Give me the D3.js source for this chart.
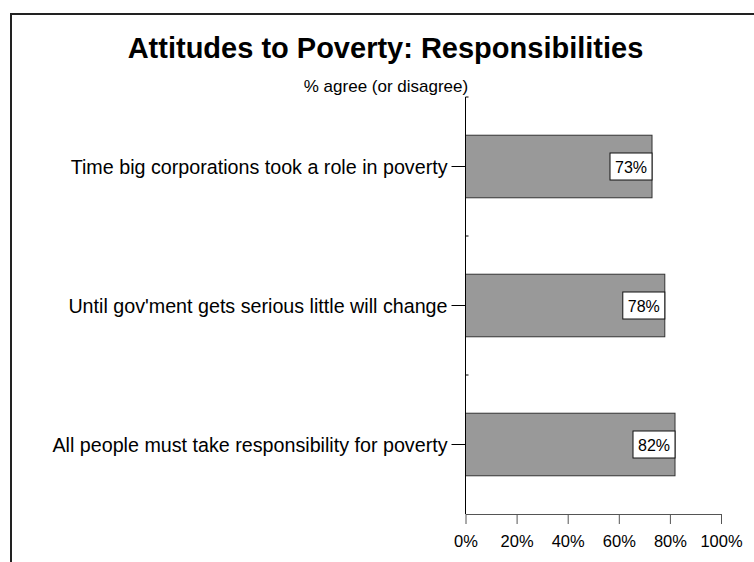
<!DOCTYPE html>
<html><head><meta charset="utf-8">
<script src="https://cdn.jsdelivr.net/npm/d3@7"></script>
<style>html,body{margin:0;padding:0;background:#fff;}svg{display:block;font-family:"Liberation Sans",Arial,sans-serif;}</style>
</head><body>
<script>
const categories = ["Time big corporations took a role in poverty","Until gov'ment gets serious little will change","All people must take responsibility for poverty"];
const values = [73, 78, 82];
const tickValues = [0, 20, 40, 60, 80, 100];
const titleText = "Attitudes to Poverty: Responsibilities";
const subtitleText = "% agree (or disagree)";

const W = 754, H = 562;
const svg = d3.select("body").append("svg").attr("width", W).attr("height", H);
svg.append("rect").attr("width", W).attr("height", H).attr("fill", "#fff");
// frame
svg.append("path").attr("d", "M11,562V14H754").attr("fill", "none").attr("stroke", "#222").attr("stroke-width", 2);

const x = d3.scaleLinear().domain([0, 100]).range([465.5, 721]);
const y = d3.scaleBand().domain(categories).range([97, 514]).paddingInner(0).paddingOuter(0);

svg.append("text").attr("x", 385.5).attr("y", 58).attr("text-anchor", "middle")
  .attr("font-size", 29).attr("font-weight", "bold").text(titleText);
svg.append("text").attr("x", 386).attr("y", 92).attr("text-anchor", "middle")
  .attr("font-size", 17).text(subtitleText);

const barH = y.bandwidth() * 0.45;
const g = svg.append("g");
g.selectAll("rect.bar").data(values).join("rect").attr("class", "bar")
  .attr("x", x(0)).attr("y", (d, i) => y(categories[i]) + y.bandwidth() / 2 - barH / 2)
  .attr("width", d => x(d) - x(0)).attr("height", barH)
  .attr("fill", "#999999").attr("stroke", "#333").attr("stroke-width", 1);

// value labels
const lbl = g.selectAll("g.lbl").data(values).join("g").attr("class", "lbl")
  .attr("transform", (d, i) => `translate(${x(d)},${y(categories[i]) + y.bandwidth() / 2})`);
lbl.append("rect").attr("x", -42).attr("y", -13.5).attr("width", 42).attr("height", 27)
  .attr("fill", "#fff").attr("stroke", "#111").attr("stroke-width", 1);
lbl.append("text").attr("x", -21).attr("y", 6).attr("text-anchor", "middle").attr("font-size", 16)
  .text(d => d + "%");

// y axis
svg.append("line").attr("x1", x(0)).attr("x2", x(0)).attr("y1", 97).attr("y2", 514).attr("stroke", "#000");
svg.append("line").attr("x1", x(0)).attr("x2", x(0) + 3).attr("y1", 97).attr("y2", 97).attr("stroke", "#000");
categories.forEach((c, i) => {
  const cy = y(c) + y.bandwidth() / 2;
  svg.append("line").attr("x1", x(0) - 14).attr("x2", x(0)).attr("y1", cy).attr("y2", cy).attr("stroke", "#000");
  svg.append("text").attr("x", x(0) - 18).attr("y", cy + 7).attr("text-anchor", "end").attr("font-size", 19.7).text(c);
  if (i > 0) svg.append("line").attr("x1", x(0)).attr("x2", x(0) + 3).attr("y1", y(c)).attr("y2", y(c)).attr("stroke", "#000");
});

// x axis
const xa = svg.append("g").attr("transform", "translate(0,514)")
  .call(d3.axisBottom(x).tickValues(tickValues).tickFormat(d => d + "%").tickSize(10).tickSizeOuter(0));
xa.select(".domain").attr("stroke", "#555");
xa.selectAll(".tick line").attr("stroke", "#555");
xa.selectAll(".tick text").attr("font-size", 16.5).attr("font-family", "Liberation Sans, Arial, sans-serif").attr("fill", "#000").attr("y", 0).attr("dy", 0)
  .attr("transform", "translate(0,33)");
</script>
</body></html>
